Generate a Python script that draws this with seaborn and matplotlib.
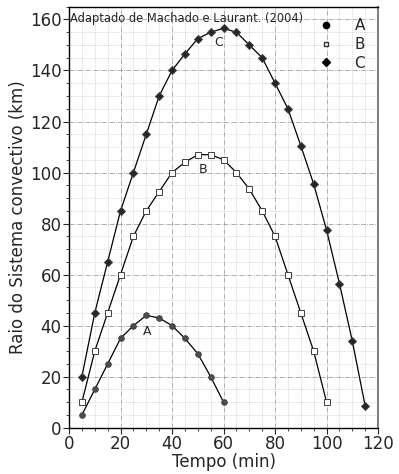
import matplotlib
matplotlib.use("Agg")
import matplotlib.pyplot as plt
import seaborn as sns
import pandas as pd
import numpy as np
from matplotlib.lines import Line2D
from matplotlib.ticker import MultipleLocator

t_A = [5, 10, 15, 20, 25, 30, 35, 40, 45, 50, 55, 60]
r_A = [5, 15, 25, 35, 40, 44, 43, 40, 35, 29, 20, 10]
t_B = list(range(5, 101, 5))
r_B = [10, 30, 45, 60, 75, 85, 92.5, 100, 104, 107, 107, 105, 100, 93.5, 85, 75, 60, 45, 30, 10]
t_C = list(range(5, 116, 5))
r_C = [20, 45, 65, 85, 100, 115, 130, 140, 146.5, 152.5, 155, 156.5, 155, 150, 145, 135,
       125, 110.5, 95.5, 77.5, 56.5, 34, 8.5]
series = ["A", "B", "C"]

df = pd.concat([
    pd.DataFrame({"Tempo": t_A, "Raio": r_A, "Serie": "A"}),
    pd.DataFrame({"Tempo": t_B, "Raio": r_B, "Serie": "B"}),
    pd.DataFrame({"Tempo": t_C, "Raio": r_C, "Serie": "C"}),
])

sns.set_style("white")
plt.rcParams['font.family'] = ['DejaVu Sans']

fig = plt.figure(figsize=(3.99, 4.74), dpi=100)
ax = fig.add_axes([0.173, 0.0977, 0.7745, 0.8882])

markers = {"A": "o", "B": "s", "C": "D"}
sizes = {"A": 4, "B": 4.2, "C": 4.2}
faces = {"A": "0.3", "B": "white", "C": "0.15"}
for s in series:
    sub = df[df["Serie"] == s]
    sns.lineplot(data=sub, x="Tempo", y="Raio", ax=ax, color="black", lw=0.9,
                 marker=markers[s], markersize=sizes[s], markerfacecolor=faces[s],
                 markeredgecolor="0.25", markeredgewidth=0.7, legend=False)

ax.set_xlim(0, 120)
ax.set_ylim(0, 165)
ax.xaxis.set_major_locator(MultipleLocator(20))
ax.xaxis.set_minor_locator(MultipleLocator(5))
ax.yaxis.set_major_locator(MultipleLocator(20))
ax.yaxis.set_minor_locator(MultipleLocator(5))
ax.tick_params(which="major", direction="out", length=4, width=0.8, labelsize=12,
               bottom=True, left=True, pad=1.5)
ax.tick_params(which="minor", direction="out", length=2.5, width=0.6, bottom=True, left=True)
ax.grid(which="minor", linestyle=":", color="0.72", lw=0.5)
ax.grid(which="major", linestyle="-.", color="0.6", lw=0.55)
ax.set_axisbelow(True)
for sp in ax.spines.values():
    sp.set_color("black")
    sp.set_linewidth(1.0)
ax.spines["right"].set_color("0.5")
ax.spines["right"].set_linewidth(1.5)

ax.set_xlabel("Tempo (min)", fontsize=12, labelpad=0)
ax.set_ylabel("Raio do Sistema convectivo (km)", fontsize=12, labelpad=2)

ax.text(0.5, 163, "Adaptado de Machado e Laurant. (2004)", fontsize=8.3, va="top", ha="left")
ax.text(30.3, 37.8, "A", fontsize=9, ha="center", va="center")
ax.text(52, 101.3, "B", fontsize=9, ha="center", va="center")
ax.text(58.1, 151.1, "C", fontsize=9, ha="center", va="center")

handles = [Line2D([], [], linestyle="none", marker="o", color="black", markersize=4.5),
           Line2D([], [], linestyle="none", marker="s", markerfacecolor="white",
                  markeredgecolor="0.2", markersize=3.5),
           Line2D([], [], linestyle="none", marker="D", color="black", markersize=4.5)]
ax.legend(handles, series, loc="upper right", frameon=False, fontsize=11,
          handletextpad=0.85, labelspacing=0.25, borderaxespad=0.35,
          bbox_to_anchor=(0.995, 1.0))

fig.savefig("out.png", dpi=100)
